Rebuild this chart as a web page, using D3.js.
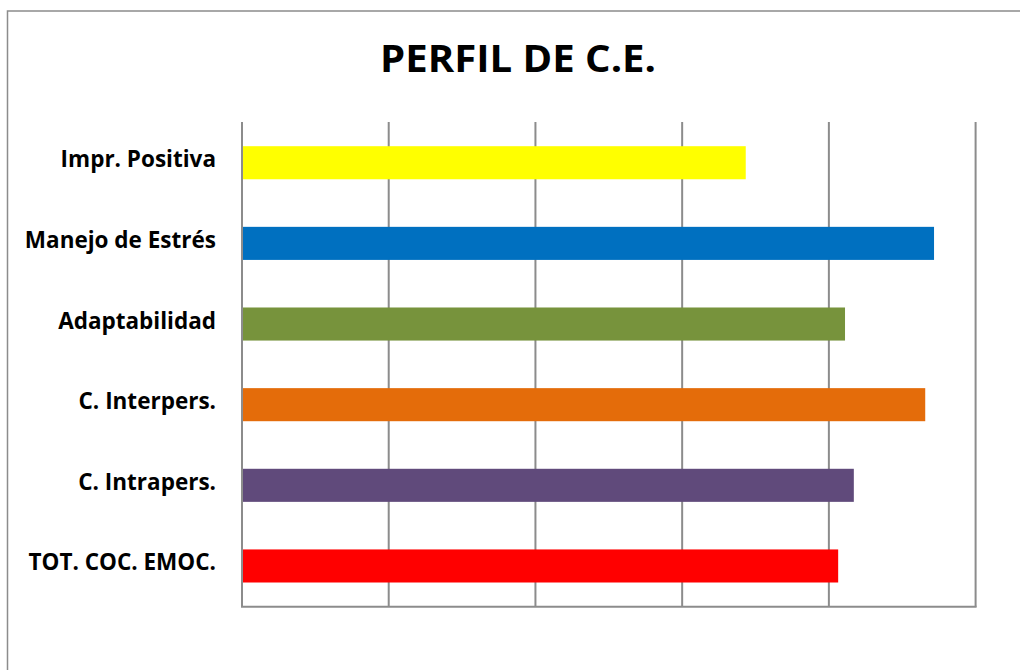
<!DOCTYPE html>
<html>
<head>
<meta charset="utf-8">
<script src="https://cdn.jsdelivr.net/npm/d3@7"></script>
<style>
  body { margin: 0; background: #fff; }
  svg { display: block; }
</style>
</head>
<body>
<svg id="chart" width="1020" height="670"></svg>
<script>
var categories = ["Impr. Positiva", "Manejo de Estrés", "Adaptabilidad", "C. Interpers.", "C. Intrapers.", "TOT. COC. EMOC."];
var values = [103, 141.5, 123.3, 139.7, 125.1, 121.9];
var colors = ["#ffff00", "#0070c0", "#77933c", "#e46c0a", "#604a7b", "#ff0000"];
var xTicks = [0, 30, 60, 90, 120, 150];

var svg = d3.select("#chart");
var font = "'Open Sans', sans-serif";

// outer chart frame (runs off the picture on right and bottom)
svg.append("rect")
    .attr("x", 7.5).attr("y", 11)
    .attr("width", 1100).attr("height", 700)
    .attr("fill", "#fff")
    .attr("stroke", "#8c8c8c")
    .attr("stroke-width", 1.5);

svg.append("text")
    .attr("x", 518).attr("y", 72)
    .attr("text-anchor", "middle")
    .style("font-family", font)
    .style("font-weight", "bold")
    .style("font-size", "38px")
    .attr("textLength", 276)
    .attr("lengthAdjust", "spacingAndGlyphs")
    .text("PERFIL DE C.E.");

var margin = {top: 122, left: 242, right: 975.6, bottom: 606.7};

var x = d3.scaleLinear()
    .domain([0, 150])
    .range([margin.left, margin.right]);

var y = d3.scaleBand()
    .domain(categories)
    .range([margin.top, margin.bottom])
    .paddingInner(0.59)
    .paddingOuter(0.3);

// vertical gridlines
svg.append("g")
    .selectAll("line")
    .data(xTicks)
    .enter()
    .append("line")
    .attr("x1", function(d) { return x(d); })
    .attr("x2", function(d) { return x(d); })
    .attr("y1", margin.top)
    .attr("y2", margin.bottom)
    .attr("stroke", "#8c8c8c")
    .attr("stroke-width", 2);

// bottom axis line
svg.append("line")
    .attr("x1", x(0) - 1).attr("x2", x(150) + 1)
    .attr("y1", margin.bottom).attr("y2", margin.bottom)
    .attr("stroke", "#8c8c8c")
    .attr("stroke-width", 2);

svg.append("g")
    .selectAll("rect")
    .data(values)
    .enter()
    .append("rect")
    .attr("x", x(0) + 1)
    .attr("y", function(d, i) { return y(categories[i]); })
    .attr("width", function(d) { return x(d) - x(0) - 1; })
    .attr("height", y.bandwidth())
    .attr("fill", function(d, i) { return colors[i]; });

var yAxis = svg.append("g")
    .attr("transform", "translate(" + margin.left + ",0)")
    .call(d3.axisLeft(y).tickSize(0).tickPadding(26));
yAxis.select(".domain").remove();
yAxis.selectAll("text")
    .attr("dy", "0.2em")
    .style("font-family", font)
    .style("font-weight", "bold")
    .style("font-size", "22.5px")
    .attr("fill", "#000");
</script>
</body>
</html>
